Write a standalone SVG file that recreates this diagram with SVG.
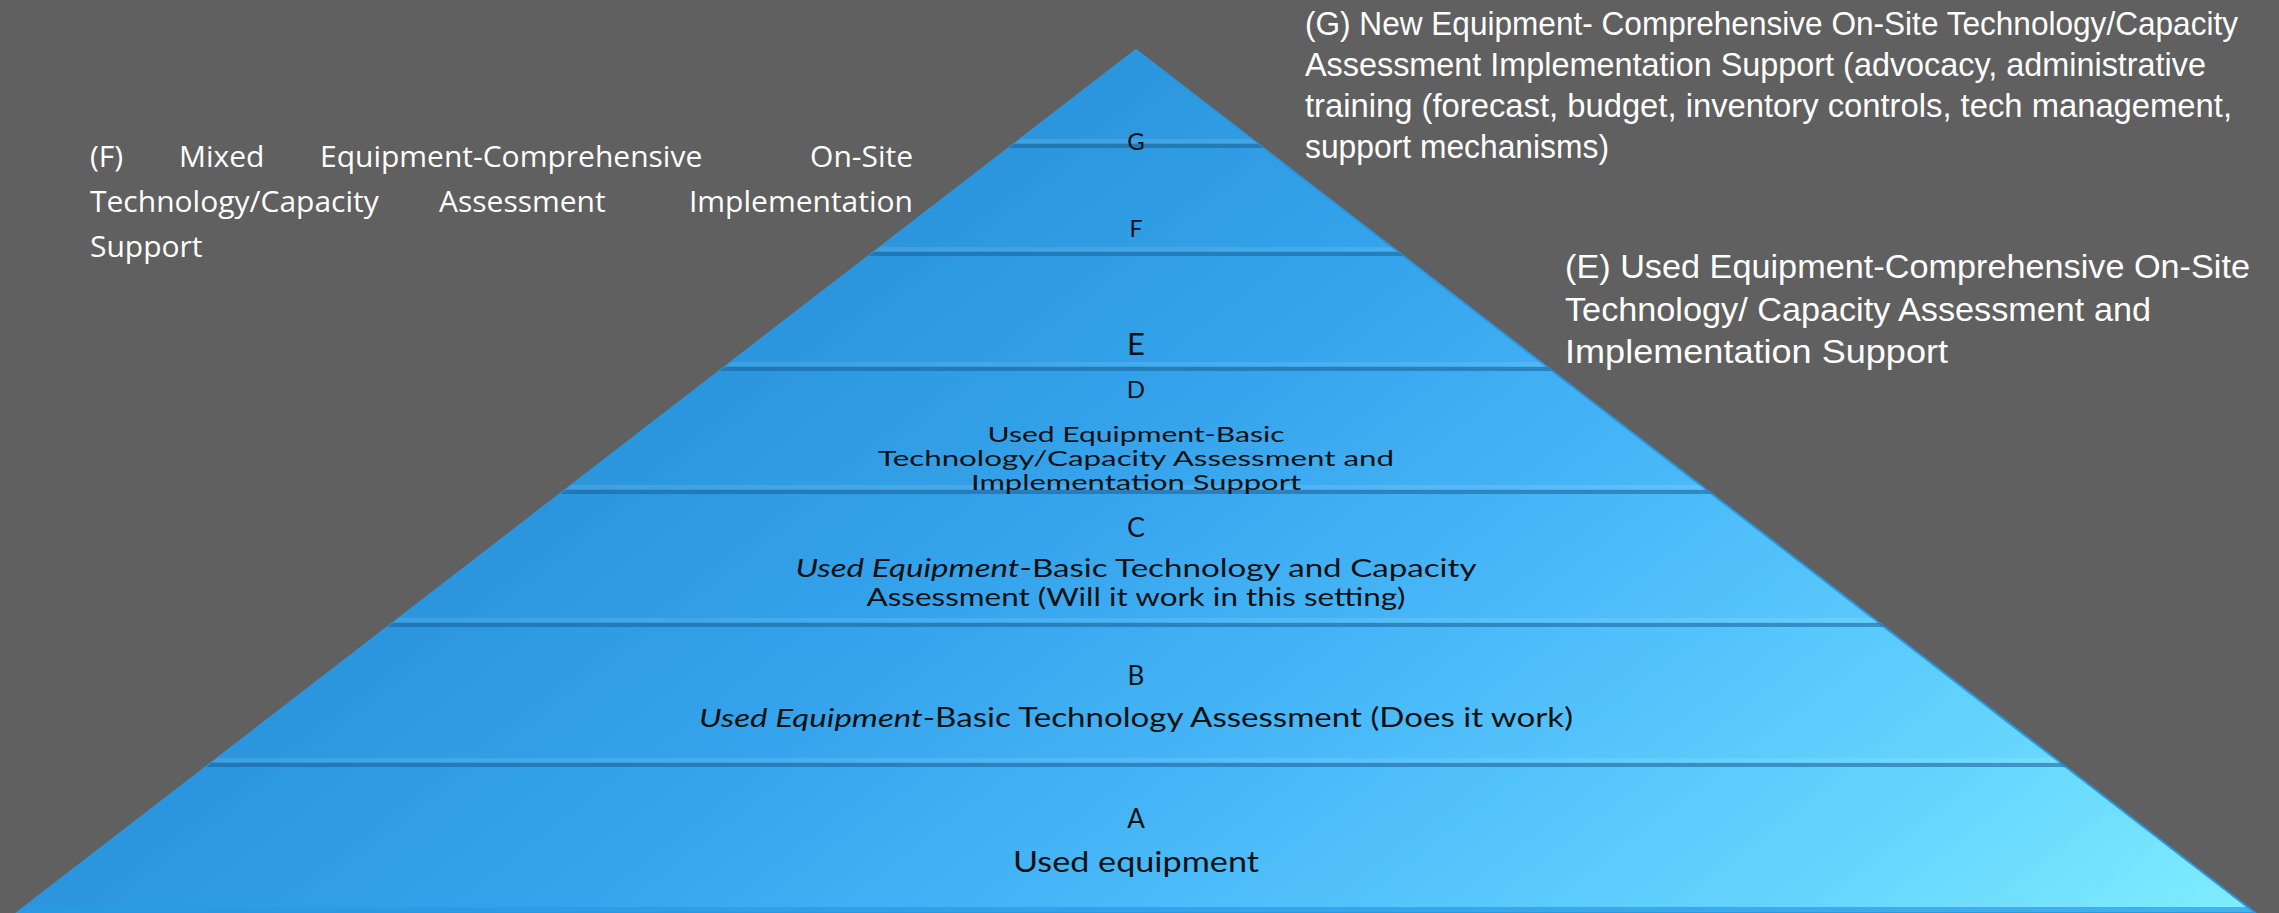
<svg xmlns="http://www.w3.org/2000/svg" width="2279" height="913" viewBox="0 0 2279 913">
<style>
.bg{fill:#606060}
.layer{fill:url(#pyr)}
.div-dark{fill:#1b5f96;opacity:0.55}
.div-light{fill:#ffffff;opacity:0.10}
.lbl{font-family:"Liberation Sans",Arial,sans-serif;fill:#ffffff;font-size:33px}
.lblF{font-family:"Open Sans","Noto Sans",sans-serif;fill:#ffffff;font-size:30px}
.pt{font-family:Lato,"Liberation Sans",sans-serif;fill:#111111;text-anchor:middle}
.it{font-style:italic}
</style>
<defs>
<linearGradient id="pyr" gradientUnits="userSpaceOnUse" x1="576" y1="481" x2="1409" y2="1564">
<stop offset="0" stop-color="#2b96de"/>
<stop offset="0.25" stop-color="#36a5ed"/>
<stop offset="0.5" stop-color="#4bbafa"/>
<stop offset="0.8" stop-color="#66d6fe"/>
<stop offset="1" stop-color="#80eeff"/>
</linearGradient>
<clipPath id="tri"><polygon points="1136,50 16.7,913 2255.3,913"/></clipPath>
</defs>
<rect class="bg" x="0" y="0" width="2279" height="913"/>

<g id="pyramid">
<polygon class="layer" points="1136,50 16.7,913 2255.3,913" stroke="#2b97e0" stroke-width="2"/>
<g clip-path="url(#tri)">
<rect class="div-light" x="0" y="139" width="2279" height="4"/>
<rect class="div-dark" x="0" y="144" width="2279" height="4"/>
<rect class="div-light" x="0" y="247" width="2279" height="4"/>
<rect class="div-dark" x="0" y="252" width="2279" height="4"/>
<rect class="div-light" x="0" y="362" width="2279" height="4"/>
<rect class="div-dark" x="0" y="367" width="2279" height="4"/>
<rect class="div-light" x="0" y="485" width="2279" height="4"/>
<rect class="div-dark" x="0" y="490" width="2279" height="4"/>
<rect class="div-light" x="0" y="618" width="2279" height="4"/>
<rect class="div-dark" x="0" y="623" width="2279" height="4"/>
<rect class="div-light" x="0" y="758" width="2279" height="4"/>
<rect class="div-dark" x="0" y="763" width="2279" height="4"/>
<rect x="0" y="907" width="2279" height="6" fill="#2a9ae4" opacity="0.7"/>
</g>
</g>

<g id="layer-G">
<text class="pt" x="1136" y="150" font-size="24">G</text>
</g>
<g id="layer-F">
<text class="pt" x="1136" y="237" font-size="23">F</text>
</g>
<g id="layer-E">
<text class="pt" x="1136" y="355" font-size="31">E</text>
</g>
<g id="layer-D">
<text class="pt" x="1136" y="398" font-size="24">D</text>
<text class="pt" x="1136" y="442" font-size="21" textLength="297" lengthAdjust="spacingAndGlyphs">Used Equipment-Basic</text>
<text class="pt" x="1136" y="466" font-size="21" textLength="516" lengthAdjust="spacingAndGlyphs">Technology/Capacity Assessment and</text>
<text class="pt" x="1136" y="490" font-size="21" textLength="330" lengthAdjust="spacingAndGlyphs">Implementation Support</text>
</g>
<g id="layer-C">
<text class="pt" x="1136" y="537" font-size="27">C</text>
<text class="pt" x="1136" y="577" font-size="25" textLength="681" lengthAdjust="spacingAndGlyphs"><tspan class="it">Used Equipment</tspan>-Basic Technology and Capacity</text>
<text class="pt" x="1136" y="606" font-size="25" textLength="539" lengthAdjust="spacingAndGlyphs">Assessment (Will it work in this setting)</text>
</g>
<g id="layer-B">
<text class="pt" x="1136" y="685" font-size="26">B</text>
<text class="pt" x="1136" y="727" font-size="26" textLength="874" lengthAdjust="spacingAndGlyphs"><tspan class="it">Used Equipment</tspan>-Basic Technology Assessment (Does it work)</text>
</g>
<g id="layer-A">
<text class="pt" x="1136" y="828" font-size="26">A</text>
<text class="pt" x="1136" y="872" font-size="28" textLength="246" lengthAdjust="spacingAndGlyphs">Used equipment</text>
</g>

<g id="label-G">
<text class="lbl" x="1305" y="35" textLength="933" lengthAdjust="spacingAndGlyphs">(G) New Equipment- Comprehensive On-Site Technology/Capacity</text>
<text class="lbl" x="1305" y="76" textLength="901" lengthAdjust="spacingAndGlyphs">Assessment Implementation Support (advocacy, administrative</text>
<text class="lbl" x="1305" y="117" textLength="927" lengthAdjust="spacingAndGlyphs">training (forecast, budget, inventory controls, tech management,</text>
<text class="lbl" x="1305" y="158" textLength="304" lengthAdjust="spacingAndGlyphs">support mechanisms)</text>
</g>
<g id="label-F">
<text class="lblF" x="90" y="167">(F)</text>
<text class="lblF" x="179" y="167">Mixed</text>
<text class="lblF" x="320" y="167">Equipment-Comprehensive</text>
<text class="lblF" x="913" y="167" text-anchor="end">On-Site</text>
<text class="lblF" x="90" y="212">Technology/Capacity</text>
<text class="lblF" x="439" y="212">Assessment</text>
<text class="lblF" x="913" y="212" text-anchor="end">Implementation</text>
<text class="lblF" x="90" y="257">Support</text>
</g>
<g id="label-E">
<text class="lbl" x="1565" y="278" textLength="685" lengthAdjust="spacingAndGlyphs">(E) Used Equipment-Comprehensive On-Site</text>
<text class="lbl" x="1565" y="321" textLength="586" lengthAdjust="spacingAndGlyphs">Technology/ Capacity Assessment and</text>
<text class="lbl" x="1565" y="363" textLength="383" lengthAdjust="spacingAndGlyphs">Implementation Support</text>
</g>
</svg>
